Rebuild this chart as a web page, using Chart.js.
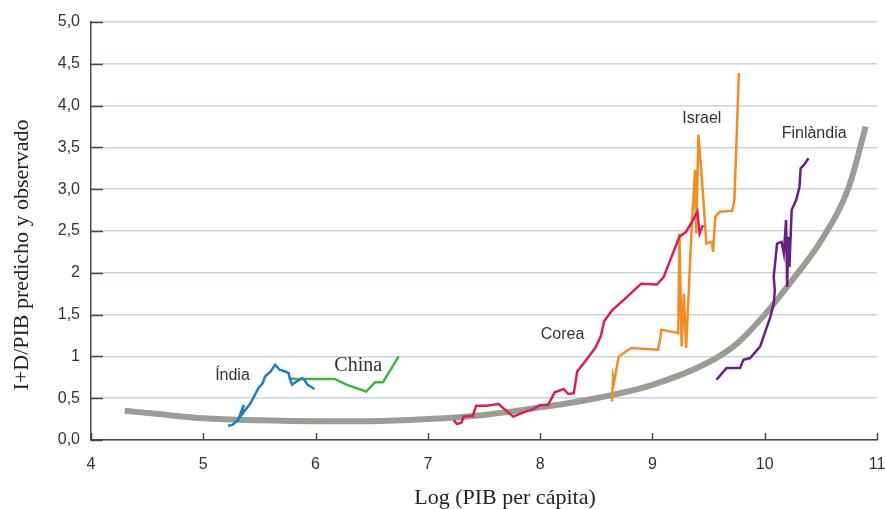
<!DOCTYPE html>
<html lang="es">
<head>
  <meta charset="UTF-8" />
  <title>I+D/PIB predicho y observado</title>
  <script src="https://cdn.jsdelivr.net/npm/chart.js"></script>
  <style>
    body { margin: 0; background: #fff; overflow: hidden; }
    canvas { display: block; }
  </style>
</head>
<body>
  <canvas id="rdChart" width="885" height="509"></canvas>

  <script>
    // axis ticks
    const yTickValues = [0, 0.5, 1, 1.5, 2, 2.5, 3, 3.5, 4, 4.5, 5];
    const yTickLabels = ['0,0', '0,5', '1', '1,5', '2', '2,5', '3,0', '3,5', '4,0', '4,5', '5,0'];
    const xTickValues = [4, 5, 6, 7, 8, 9, 10, 11];

    // predicted curve (grey)
    const curveX = [4.3, 4.6, 5, 5.5, 6, 6.5, 7, 7.5, 8, 8.5, 9, 9.5, 9.75, 10, 10.25, 10.5, 10.75, 10.9];
    const curveY = [0.35, 0.31, 0.26, 0.235, 0.225, 0.225, 0.25, 0.30, 0.39, 0.50, 0.66, 0.93, 1.15, 1.5, 1.92, 2.38, 3.03, 3.75];

    // observed series
    const indiaX = [5.22, 5.26, 5.31, 5.36, 5.34, 5.42, 5.49, 5.53, 5.55, 5.6, 5.64, 5.68, 5.73, 5.76, 5.77, 5.79, 5.83, 5.88, 5.9, 5.93, 5.99];
    const indiaY = [0.17, 0.18, 0.24, 0.42, 0.30, 0.44, 0.62, 0.68, 0.76, 0.82, 0.90, 0.84, 0.82, 0.80, 0.74, 0.66, 0.70, 0.74, 0.72, 0.66, 0.61];

    const chinaX = [5.76, 5.83, 6.17, 6.28, 6.45, 6.53, 6.6, 6.74];
    const chinaY = [0.74, 0.73, 0.73, 0.66, 0.58, 0.69, 0.69, 1.0];

    const koreaX = [7.23, 7.26, 7.3, 7.32, 7.4, 7.43, 7.52, 7.63, 7.69, 7.76, 7.85, 7.94, 8.0, 8.07, 8.13, 8.21, 8.25, 8.3, 8.33, 8.39, 8.49, 8.54, 8.57, 8.64, 8.74, 8.9, 9.04, 9.1, 9.17, 9.24, 9.3, 9.36, 9.4, 9.42, 9.45];
    const koreaY = [0.24, 0.19, 0.21, 0.28, 0.29, 0.41, 0.41, 0.43, 0.36, 0.28, 0.33, 0.37, 0.42, 0.42, 0.57, 0.61, 0.55, 0.56, 0.82, 0.92, 1.10, 1.24, 1.42, 1.55, 1.67, 1.87, 1.86, 1.95, 2.19, 2.43, 2.49, 2.63, 2.73, 2.47, 2.57];

    const israelX = [8.64, 8.65, 8.66, 8.7, 8.81, 9.05, 9.07, 9.08, 9.23, 9.24, 9.26, 9.28, 9.3, 9.35, 9.38, 9.39, 9.41, 9.45, 9.48, 9.53, 9.54, 9.56, 9.6, 9.71, 9.73, 9.77];
    const israelY = [0.46, 0.76, 0.70, 1.0, 1.10, 1.08, 1.22, 1.32, 1.28, 2.47, 1.12, 1.75, 1.10, 2.55, 3.23, 2.47, 3.65, 2.95, 2.35, 2.37, 2.25, 2.67, 2.73, 2.74, 2.87, 4.39];

    const finlandX = [9.57, 9.66, 9.78, 9.81, 9.87, 9.96, 9.99, 10.05, 10.08, 10.09, 10.08, 10.11, 10.15, 10.17, 10.19, 10.2, 10.21, 10.22, 10.24, 10.28, 10.31, 10.32, 10.35, 10.39];
    const finlandY = [0.72, 0.86, 0.86, 0.96, 0.98, 1.12, 1.24, 1.47, 1.63, 1.79, 1.95, 2.35, 2.37, 2.23, 2.63, 1.83, 2.43, 2.07, 2.75, 2.87, 3.03, 3.25, 3.29, 3.37];

    const toPoints = (xs, ys) => xs.map((x, i) => ({ x: x, y: ys[i] }));

    const seriesLine = (label, xs, ys, color) => ({
      label: label,
      data: toPoints(xs, ys),
      borderColor: color,
      borderWidth: 2.5,
      showLine: true,
      pointRadius: 0,
      tension: 0,
      order: 1
    });

    const SANS = '"Liberation Sans", Arial, sans-serif';
    const SERIF = '"Liberation Serif", "Times New Roman", serif';

    // country name placement, in data units
    const countryLabels = [
      { text: 'Índia', x: 5.26, y: 0.77, font: '16px ' + SANS },
      { text: 'China', x: 6.38, y: 0.89, font: '20px ' + SERIF },
      { text: 'Corea', x: 8.2, y: 1.26, font: '16px ' + SANS },
      { text: 'Israel', x: 9.44, y: 3.85, font: '16px ' + SANS },
      { text: 'Finlàndia', x: 10.44, y: 3.66, font: '16px ' + SANS }
    ];

    const overlay = {
      id: 'overlay',
      beforeDatasetsDraw(chart) {
        const { ctx, chartArea, scales } = chart;
        ctx.save();
        ctx.strokeStyle = '#4a4a4a';
        ctx.lineWidth = 1.5;
        ctx.beginPath();
        yTickValues.forEach(v => {
          const py = Math.round(scales.y.getPixelForValue(v)) + 0.5;
          ctx.moveTo(chartArea.left, py);
          ctx.lineTo(chartArea.left + 12, py);
        });
        xTickValues.forEach(v => {
          const px = Math.round(scales.x.getPixelForValue(v)) + 0.5;
          ctx.moveTo(px, chartArea.bottom);
          ctx.lineTo(px, chartArea.bottom - 7);
        });
        ctx.stroke();
        ctx.restore();
      },
      afterDatasetsDraw(chart) {
        const { ctx, chartArea, scales } = chart;
        ctx.save();
        ctx.fillStyle = '#333';
        ctx.textAlign = 'center';
        ctx.textBaseline = 'middle';
        countryLabels.forEach(l => {
          ctx.font = l.font;
          ctx.fillText(l.text, scales.x.getPixelForValue(l.x), scales.y.getPixelForValue(l.y));
        });

        // axis titles
        ctx.fillStyle = '#222';
        ctx.font = '22px ' + SERIF;
        ctx.fillText('Log (PIB per cápita)', (chartArea.left + chartArea.right) / 2 + 21, 498);
        ctx.translate(22, (chartArea.top + chartArea.bottom) / 2 + 24);
        ctx.rotate(-Math.PI / 2);
        ctx.fillText('I+D/PIB predicho y observado', 0, 0);
        ctx.restore();
      }
    };

    const ctx = document.getElementById('rdChart').getContext('2d');
    new Chart(ctx, {
      type: 'scatter',
      data: {
        datasets: [
          {
            label: 'Predicho',
            data: toPoints(curveX, curveY),
            borderColor: '#9a9d93',
            borderWidth: 6,
            showLine: true,
            pointRadius: 0,
            cubicInterpolationMode: 'monotone',
            borderCapStyle: 'butt',
            order: 5
          },
          seriesLine('Índia', indiaX, indiaY, '#1f7dc1'),
          seriesLine('China', chinaX, chinaY, '#3cb44a'),
          seriesLine('Corea', koreaX, koreaY, '#dd1d56'),
          seriesLine('Israel', israelX, israelY, '#f68b20'),
          seriesLine('Finlàndia', finlandX, finlandY, '#6b1d88')
        ]
      },
      options: {
        responsive: false,
        animation: false,
        layout: { padding: { top: 22, right: 0, left: 0, bottom: 0 } },
        plugins: {
          legend: { display: false },
          tooltip: { enabled: false }
        },
        scales: {
          x: {
            type: 'linear',
            min: 4,
            max: 11,
            afterBuildTicks: s => { s.ticks = xTickValues.map(v => ({ value: v })); },
            afterFit: s => { s.height = 69; s.paddingLeft = 0; s.paddingRight = 8; },
            grid: { display: false, drawTicks: false },
            border: { display: true, color: '#4a4a4a', width: 1.5 },
            ticks: {
              padding: 15,
              color: '#333',
              font: { family: SANS, size: 16 }
            }
          },
          y: {
            min: 0,
            max: 5,
            afterBuildTicks: s => { s.ticks = yTickValues.map(v => ({ value: v })); },
            afterFit: s => { s.width = 91; },
            grid: { color: '#c6d6da', lineWidth: 1.5, drawTicks: false },
            border: { display: true, color: '#4a4a4a', width: 1.5 },
            ticks: {
              padding: 11,
              color: '#333',
              font: { family: SANS, size: 16 },
              callback: (value) => {
                const i = yTickValues.indexOf(value);
                return i >= 0 ? yTickLabels[i] : '';
              }
            }
          }
        }
      },
      plugins: [overlay]
    });
  </script>
</body>
</html>
